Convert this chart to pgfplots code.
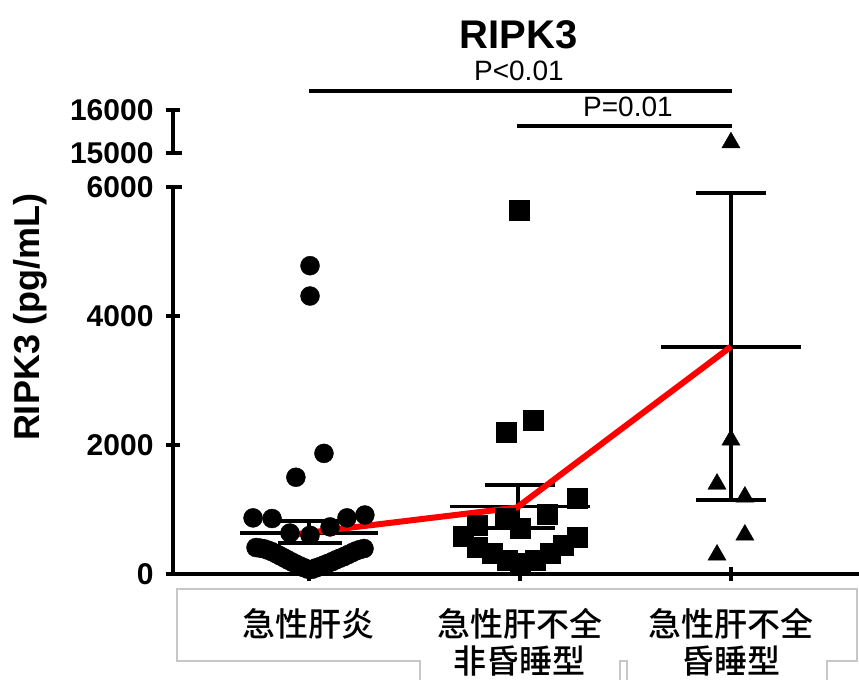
\documentclass[border=0pt]{standalone}
\usepackage{fontspec}
\setmainfont{Liberation Sans}
\newfontfamily\cjk{Noto Sans CJK SC}[UprightFont={* Medium}]
\usepackage{pgfplots}
\pgfplotsset{compat=1.18}
\pgfplotsset{brk/.style={
  scale only axis, width=686pt,
  xmin=0.3555, xmax=3.607,
  tick align=outside, major tick length=14pt,
  tick style={line width=3.5pt, black},
  scaled ticks=false,
  /pgf/number format/assume math mode=true,
  /pgf/number format/1000 sep={},
  yticklabel style={font=\fontsize{30}{32}\selectfont\bfseries, anchor=east, xshift=-9pt},
  clip=false},
  eb/.style={black, line width=3.8pt}}
\begin{document}
\begin{tikzpicture}
\useasboundingbox (-173pt,-106pt) rectangle (686pt,574pt);
% ---------- lower axis ----------
\begin{axis}[brk, at={(0pt,0pt)}, anchor=south west,
  height=387pt, ymin=0, ymax=6000,
  axis x line=bottom, axis y line=left,
  every outer x axis line/.append style={-, line width=4pt},
  every outer y axis line/.append style={-, line width=4pt},
  xtick={1,2,3}, xticklabels={},
  ytick={0,2000,4000,6000}]
% group 1 circles
\addplot[only marks, mark=*, mark size=9.5pt, black] coordinates {
(1.005,4780) (1.005,4310) (1.071,1870) (0.938,1500)
(0.735,870) (0.825,860) (1.100,730) (1.180,870) (1.265,915) (0.910,635) (1.005,600)
(0.749,410) (0.768,402) (0.787,390) (0.806,370) (0.825,345) (0.844,315) (0.863,282)
(0.882,250) (0.900,218) (0.919,186) (0.938,155) (0.957,125) (0.976,98) (0.995,75)
(1.014,72) (1.033,95) (1.052,115) (1.071,140) (1.090,165) (1.109,190) (1.128,220)
(1.147,245) (1.166,270) (1.185,300) (1.204,330) (1.223,358) (1.242,380) (1.261,395)};
% group 2 squares
\addplot[only marks, mark=square*, mark size=10pt, black] coordinates {
(1.995,5640) (2.062,2390) (1.934,2200) (2.270,1180) (1.929,870) (2.128,920) (2.0,710)
(1.796,760) (1.730,580) (2.270,570) (1.796,420) (1.867,330) (1.938,220) (2.0,170)
(2.071,220) (2.142,330) (2.204,450)};
% group 3 triangles
\addplot[only marks, mark=triangle*, mark size=10.5pt, black] coordinates {
(3.0,2078) (2.934,1395) (3.066,1194) (3.066,605) (2.934,295)};
% mean and SEM
\addplot[eb] coordinates {(0.673,640) (1.327,640)};
\addplot[eb] coordinates {(0.853,820) (1.156,820)};
\addplot[eb] coordinates {(0.853,480) (1.156,480)};
\addplot[eb] coordinates {(1.0,480) (1.0,820)};
\addplot[eb] coordinates {(1.668,1045) (2.332,1045)};
\addplot[eb] coordinates {(1.834,1380) (2.166,1380)};
\addplot[eb] coordinates {(1.834,710) (2.166,710)};
\addplot[eb] coordinates {(1.99,710) (1.99,1380)};
\addplot[eb] coordinates {(2.668,3524) (3.332,3524)};
\addplot[eb] coordinates {(2.834,5902) (3.166,5902)};
\addplot[eb] coordinates {(2.834,1147) (3.166,1147)};
\addplot[eb] coordinates {(3.0,1147) (3.0,5902)};
% red trend line
\addplot[red, line width=6pt] coordinates {(0.934,615) (1.985,1030) (3.0,3524)};
% significance
\addplot[eb] coordinates {(1.0,7488) (3.005,7488)};
\addplot[eb] coordinates {(1.986,6946) (3.005,6946)};
\node[font=\fontsize{28}{30}\selectfont] at (axis cs:1.995,7798) {P<0.01};
\node[font=\fontsize{28}{30}\selectfont] at (axis cs:2.512,7248) {P=0.01};
\node[font=\fontsize{40}{42}\selectfont\bfseries] at (axis cs:1.995,8357) {RIPK3};
\addplot[black, line width=3.5pt] coordinates {(0.3555,6000) (0.398,6000)};
% category labels
\node[anchor=north, align=center, inner sep=0pt, font=\fontsize{33}{37}\selectfont\cjk] at (axis cs:1,0) [yshift=-34pt] {急性肝炎};
\node[anchor=north, align=center, inner sep=0pt, font=\fontsize{33}{37}\selectfont\cjk] at (axis cs:2,0) [yshift=-34pt] {急性肝不全\\非昏睡型};
\node[anchor=north, align=center, inner sep=0pt, font=\fontsize{33}{37}\selectfont\cjk] at (axis cs:3,0) [yshift=-34pt] {急性肝不全\\昏睡型};
\end{axis}
% ---------- upper axis ----------
\begin{axis}[brk, at={(0pt,421pt)}, anchor=south west,
  height=43pt, ymin=15000, ymax=16000,
  axis x line=none, axis y line=left,
  every outer y axis line/.append style={-, line width=4pt},
  ytick={15000,16000}]
\addplot[only marks, mark=triangle*, mark size=10.5pt, black] coordinates {(3.0,15240)};
\addplot[black, line width=3.5pt] coordinates {(0.3555,15000) (0.398,15000)};
\end{axis}
% y label
\node[rotate=90, font=\fontsize{36}{38}\selectfont\bfseries] at (-143pt,257pt) {RIPK3 (pg/mL)};
% grey label box
\draw[line width=1.2pt, black!22] (247pt,-106pt) -- (247pt,-87pt) -- (4pt,-87pt) -- (4pt,-15pt) -- (684pt,-15pt) -- (684pt,-87pt) -- (654pt,-87pt) -- (654pt,-106pt);
\draw[line width=1.2pt, black!22] (447pt,-106pt) -- (447pt,-87pt) -- (454pt,-87pt) -- (454pt,-106pt);
\end{tikzpicture}
\end{document}
